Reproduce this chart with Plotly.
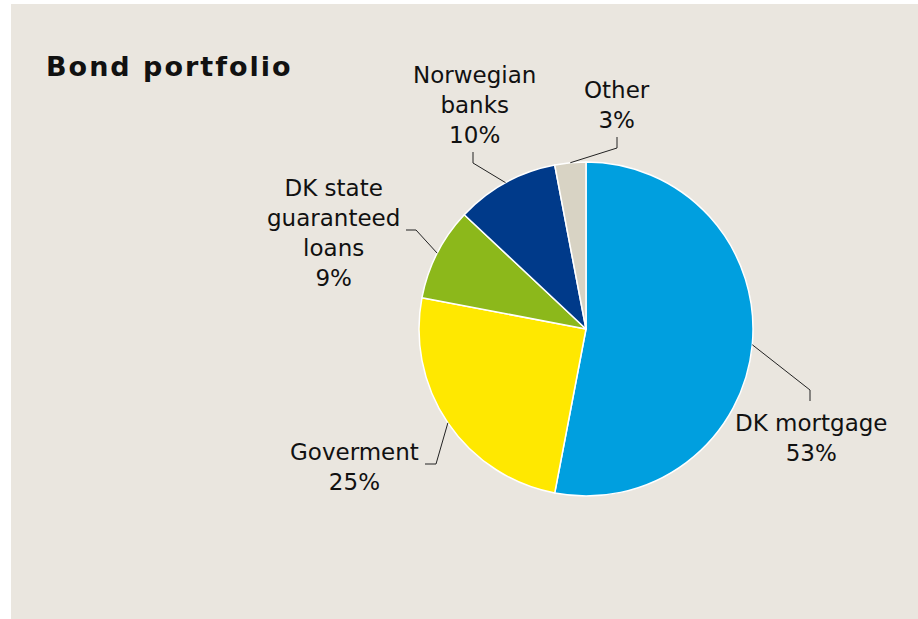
import math
import plotly.graph_objects as go

# ---- data ----
labels = ["DK mortgage", "Goverment", "DK state guaranteed loans", "Norwegian banks", "Other"]
label_text = ["DK mortgage<br>53%", "Goverment<br>25%", "DK state<br>guaranteed<br>loans<br>9%",
              "Norwegian<br>banks<br>10%", "Other<br>3%"]
values = [53, 25, 9, 10, 3]
colors = ["#009FDF", "#FFE800", "#8CB81B", "#003A8A", "#D8D3C4"]

W, H = 918, 619
BG = "#EAE6DF"

def X(x):
    return x / W

def Y(y):
    return 1 - y / H

# pie geometry (pixels)
cx, cy, r = 586, 329, 167

# label placement (pixels): label centre, leader elbow, leader end
label_pos = [(811, 438), (354, 467), (333, 233), (474, 105), (617, 105)]
elbows = [(810, 390), (436, 464), (416, 230), (473, 163), (617, 148)]
ends = [(810, 401), (425, 464), (406, 230), (473, 152), (617, 137)]

fig = go.Figure(go.Pie(
    labels=labels, values=values, sort=False, direction="clockwise", rotation=0,
    marker=dict(colors=colors, line=dict(color="white", width=1.5)),
    textinfo="none", hoverinfo="label+percent", showlegend=False,
    domain=dict(x=[X(cx - r), X(cx + r)], y=[Y(cy + r), Y(cy - r)]),
))

shapes = [
    dict(type="rect", xref="paper", yref="paper", x0=0, x1=X(11), y0=0, y1=1,
         fillcolor="white", line=dict(width=0), layer="above"),
    dict(type="rect", xref="paper", yref="paper", x0=0, x1=1, y0=Y(4), y1=1,
         fillcolor="white", line=dict(width=0), layer="above"),
]
annotations = [
    dict(text='<span style="letter-spacing:2px"><b>Bond portfolio</b></span>',
         x=X(44), y=Y(66), xref="paper", yref="paper", xanchor="left", yanchor="middle",
         showarrow=False, font=dict(family="DejaVu Sans", size=27, color="#111111")),
]

total = sum(values)
cum = 0
for i, v in enumerate(values):
    mid = (cum + v / 2) / total * 2 * math.pi
    cum += v
    sx, sy = cx + r * math.sin(mid), cy - r * math.cos(mid)
    (ex, ey), (tx, ty) = elbows[i], ends[i]
    shapes.append(dict(type="path", xref="paper", yref="paper",
                       path=f"M {X(sx)} {Y(sy)} L {X(ex)} {Y(ey)} L {X(tx)} {Y(ty)}",
                       line=dict(color="#222222", width=1)))
    lx, ly = label_pos[i]
    annotations.append(dict(text=label_text[i], x=X(lx), y=Y(ly), xref="paper", yref="paper",
                            xanchor="center", yanchor="middle", align="center", showarrow=False,
                            font=dict(family="DejaVu Sans", size=23, color="#111111")))

fig.update_layout(
    width=W, height=H, margin=dict(l=0, r=0, t=0, b=0),
    paper_bgcolor=BG, plot_bgcolor=BG,
    shapes=shapes, annotations=annotations,
)

fig.write_html("out.html", config={"displayModeBar": False},
               post_script="document.body.style.margin='0';")
